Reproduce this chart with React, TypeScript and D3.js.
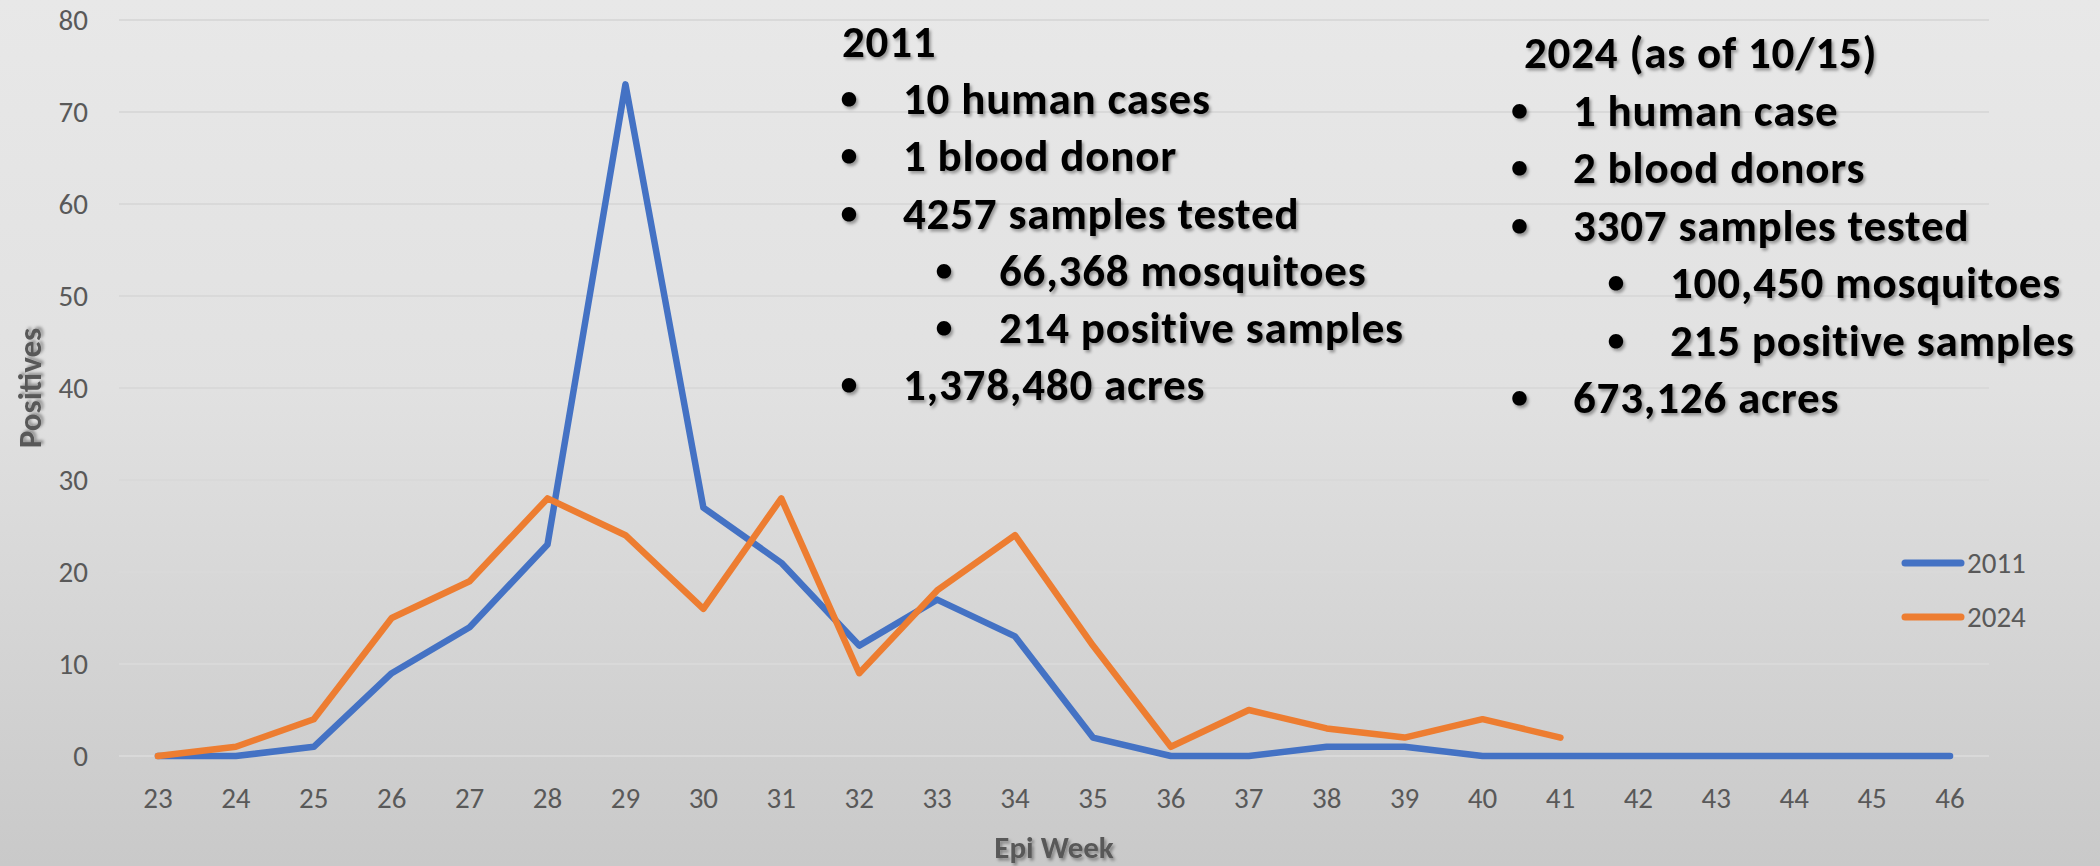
import React from "react";
import * as d3 from "d3";

const weeks = ["23","24","25","26","27","28","29","30","31","32","33","34","35","36","37","38","39","40","41","42","43","44","45","46"];
const values2011 = [0,0,1,9,14,23,73,27,21,12,17,13,2,0,0,1,1,0,0,0,0,0,0,0];
const values2024 = [0,1,4,15,19,28,24,16,28,9,18,24,12,1,5,3,2,4,2];
const yTicks = [0,10,20,30,40,50,60,70,80];
const seriesNames = ["2011","2024"];
const seriesColors = ["#4472C4","#ED7D31"];

const title2011 = "2011";
const notes2011 = [
  { level: 1, text: "10 human cases" },
  { level: 1, text: "1 blood donor" },
  { level: 1, text: "4257 samples tested" },
  { level: 2, text: "66,368 mosquitoes" },
  { level: 2, text: "214 positive samples" },
  { level: 1, text: "1,378,480 acres" },
];
const title2024 = "2024 (as of 10/15)";
const notes2024 = [
  { level: 1, text: "1 human case" },
  { level: 1, text: "2 blood donors" },
  { level: 1, text: "3307 samples tested" },
  { level: 2, text: "100,450 mosquitoes" },
  { level: 2, text: "215 positive samples" },
  { level: 1, text: "673,126 acres" },
];

const W = 2100, H = 866;
const FONT = "Carlito, Calibri, Lato, sans-serif";
const GRAY = "#595959";

function NoteBlock({ title, notes, titleX, titleY, bulletX, textX, subBulletX, subTextX, step }) {
  return (
    <g filter="url(#shadow)" fontFamily={FONT} fontWeight="bold" fill="#000">
      <text x={titleX} y={titleY} fontSize={45} letterSpacing={0.8}>{title}</text>
      {notes.map((n, i) => {
        const y = titleY + step * (i + 1);
        const bx = n.level === 1 ? bulletX : subBulletX;
        const tx = n.level === 1 ? textX : subTextX;
        return (
          <g key={i}>
            <text x={bx} y={y} dy={-5} textAnchor="middle" fontSize={34}>•</text>
            <text x={tx} y={y} fontSize={45} letterSpacing={0.8}>{n.text}</text>
          </g>
        );
      })}
    </g>
  );
}

export default function App() {
  const x = d3.scaleBand().domain(weeks).range([119, 1989]).padding(0);
  const cx = (w) => (x(w) as number) + x.bandwidth() / 2;
  const y = d3.scaleLinear().domain([0, 80]).range([756, 20]);
  const line = d3.line<number>()
    .x((_, i) => cx(weeks[i]))
    .y((d) => y(d));
  const series = [values2011, values2024];

  return (
    <svg width={W} height={H} style={{ position: "absolute", left: 0, top: 0 }} xmlns="http://www.w3.org/2000/svg">
      <defs>
        <linearGradient id="bg" x1="0" y1="0" x2="0" y2="1">
          <stop offset="0" stopColor="#e8e8e8" />
          <stop offset="0.45" stopColor="#e1e1e1" />
          <stop offset="1" stopColor="#c9c9c9" />
        </linearGradient>
        <filter id="shadow" x="-10%" y="-30%" width="120%" height="160%">
          <feDropShadow dx="2" dy="2.5" stdDeviation="1.5" floodColor="#000" floodOpacity="0.35" />
        </filter>
      </defs>
      <rect x={0} y={0} width={W} height={H} fill="url(#bg)" />

      {yTicks.map((t) => (
        <g key={t}>
          <line x1={119} x2={1989} y1={y(t)} y2={y(t)} stroke="#d9d9d9" strokeWidth={2} />
          <text x={88} y={y(t)} dy="0.35em" textAnchor="end" fontFamily={FONT} fontSize={29} fill={GRAY}>{t}</text>
        </g>
      ))}

      {weeks.map((w) => (
        <text key={w} x={cx(w)} y={798} dy="0.35em" textAnchor="middle" fontFamily={FONT} fontSize={29} fill={GRAY}>{w}</text>
      ))}

      <text x={1054} y={847} dy="0.35em" textAnchor="middle" fontFamily={FONT} fontWeight="bold" fontSize={31} fill={GRAY} filter="url(#shadow)">Epi Week</text>
      <text transform={`translate(29,388) rotate(-90)`} dy="0.35em" textAnchor="middle" fontFamily={FONT} fontWeight="bold" fontSize={33} fill={GRAY} filter="url(#shadow)">Positives</text>

      {series.map((s, i) => (
        <path key={i} d={line(s) as string} fill="none" stroke={seriesColors[i]} strokeWidth={6.5} strokeLinejoin="round" strokeLinecap="round" />
      ))}

      {seriesNames.map((n, i) => (
        <g key={n}>
          <line x1={1905} x2={1961} y1={563 + i * 54} y2={563 + i * 54} stroke={seriesColors[i]} strokeWidth={7} strokeLinecap="round" />
          <text x={1967} y={563 + i * 54} dy="0.35em" fontFamily={FONT} fontSize={29} fill={GRAY}>{n}</text>
        </g>
      ))}

      <NoteBlock title={title2011} notes={notes2011} titleX={842} titleY={57} bulletX={849} textX={903} subBulletX={944} subTextX={999} step={57.2} />
      <NoteBlock title={title2024} notes={notes2024} titleX={1524} titleY={68} bulletX={1519.5} textX={1573} subBulletX={1616} subTextX={1670} step={57.5} />
    </svg>
  );
}
